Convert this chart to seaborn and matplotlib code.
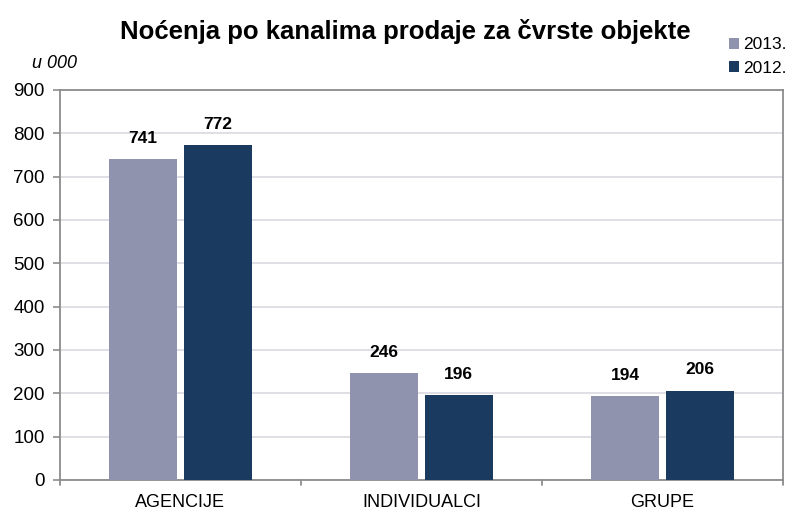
import pandas as pd
import matplotlib.pyplot as plt
import seaborn as sns
from matplotlib.patches import Patch

# podaci (u 000)
kanali = ['AGENCIJE', 'INDIVIDUALCI', 'GRUPE']
godine = ['2013.', '2012.']
nocenja_2013 = [741, 246, 194]
nocenja_2012 = [772, 196, 206]

boje = {'2013.': '#8F93AE', '2012.': '#1B3A5F'}

df = pd.DataFrame({
    'Kanal': kanali * 2,
    'Godina': [godine[0]] * 3 + [godine[1]] * 3,
    'Nocenja': nocenja_2013 + nocenja_2012,
})

sns.set_style('white')
plt.rcParams['font.family'] = ['Liberation Sans', 'DejaVu Sans']
plt.rcParams['text.color'] = 'black'
plt.rcParams['xtick.labelcolor'] = 'black'
plt.rcParams['ytick.labelcolor'] = 'black'

fig = plt.figure(figsize=(7.88, 5.11), dpi=100)
ax = fig.add_axes([0.0761, 0.0607, 0.9175, 0.7632])

sns.barplot(data=df, x='Kanal', y='Nocenja', hue='Godina', hue_order=godine,
            palette=boje, width=0.62, gap=0.09, saturation=1, ax=ax,
            legend=False, linewidth=0, zorder=3)

# oznake vrijednosti
for cont in ax.containers:
    for bar in cont:
        v = bar.get_height()
        ax.annotate(f'{v:.0f}', (bar.get_x() + bar.get_width() / 2, v),
                    xytext=(0, 15), textcoords='offset points',
                    ha='center', va='center', fontsize=12.5, fontweight='bold')

ax.set_ylim(0, 900)
ax.set_xlim(-0.5, 2.5)
ax.set_yticks(range(0, 901, 100))
ax.yaxis.grid(True, color='#D9D9E0', linewidth=1.2, zorder=0)
ax.set_axisbelow(True)
ax.set_xlabel('')
ax.set_ylabel('')
ax.tick_params(axis='y', labelsize=13.5, length=5, width=1.2, color='#8C8C8C',
               direction='out', left=True, pad=6)
ax.tick_params(axis='x', labelsize=13, length=0, pad=10)
for s in ax.spines.values():
    s.set_color('#8C8C8C')
    s.set_linewidth(1.3)

# kratke crtice izmedju kategorija
for xb in [-0.5, 0.5, 1.5, 2.5]:
    ax.plot([xb, xb], [0, -12], color='#8C8C8C', lw=1.3, clip_on=False)

fig.text(0.514, 0.938, 'Noćenja po kanalima prodaje za čvrste objekte',
         ha='center', va='center', fontsize=18.5, fontweight='bold')
fig.text(0.041, 0.876, 'u 000', ha='left', va='center', fontsize=13, style='italic')

handles = [Patch(facecolor=boje[g], edgecolor='none', label=g) for g in godine]
fig.legend(handles=handles, loc='upper right', bbox_to_anchor=(0.998, 0.927),
           frameon=False, fontsize=12.5, handlelength=0.6, handleheight=0.6,
           handletextpad=0.2, labelspacing=0.5, borderpad=0, borderaxespad=0)

fig.savefig('out.png', dpi=100)
